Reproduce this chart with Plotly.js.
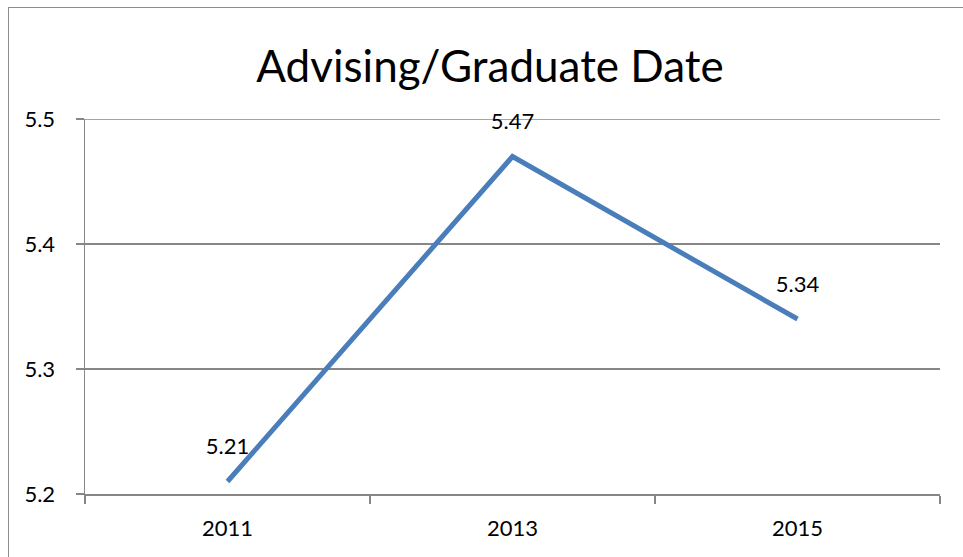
<!DOCTYPE html>
<html>
<head>
<meta charset="utf-8">
<script src="https://cdn.plot.ly/plotly-3.0.1.min.js"></script>
<style>
  html, body { margin: 0; padding: 0; overflow: hidden; background: #fff; }
  #chart { position: absolute; left: 0; top: 0; width: 963px; height: 557px; }
  #frame { position: absolute; left: 8px; top: 7px; width: 1100px; height: 700px;
           border: 1.5px solid #8c8c8c; pointer-events: none; }
</style>
</head>
<body>
<div id="chart"></div>
<div id="frame"></div>
<script>
const categories = ["2011", "2013", "2015"];
const values = [5.21, 5.47, 5.34];
const labels = ["5.21", "5.47", "5.34"];
const yTicks = [5.2, 5.3, 5.4, 5.5];
const yTickText = ["5.2", "5.3", "5.4", "5.5"];
const chartTitle = "Advising/Graduate Date";

const FONT = "Lato, 'Open Sans', sans-serif";

const lineTrace = {
  x: categories,
  y: values,
  type: "scatter",
  mode: "lines",
  line: { color: "#4a7ebb", width: 5 },
  hoverinfo: "skip",
  cliponaxis: false
};

const labelTrace = {
  x: categories,
  y: values,
  type: "scatter",
  mode: "markers+text",
  marker: { size: 33, color: "rgba(0,0,0,0)" },
  text: labels,
  textposition: "top center",
  textfont: { family: FONT, size: 22, color: "#000" },
  hoverinfo: "skip",
  cliponaxis: false
};

const topGrid = {
  type: "line", xref: "paper", x0: 0, x1: 1,
  yref: "y", y0: yTicks[yTicks.length - 1], y1: yTicks[yTicks.length - 1],
  line: { color: "#868686", width: 1.5 }, layer: "below"
};

const layout = {
  width: 963, height: 557,
  margin: { l: 85, r: 23, t: 119, b: 63 },
  paper_bgcolor: "#fff", plot_bgcolor: "#fff",
  showlegend: false,
  title: {
    text: chartTitle,
    font: { family: FONT, size: 44, color: "#000" },
    x: 490 / 963, xref: "container", xanchor: "center",
    y: 1 - 67 / 557, yref: "container", yanchor: "middle"
  },
  font: { family: FONT, size: 22, color: "#000" },
  xaxis: {
    type: "category",
    range: [-0.5, 2.5],
    tickvals: categories,
    ticktext: categories,
    tickson: "boundaries",
    ticks: "outside", ticklen: 8, tickwidth: 1.5, tickcolor: "#868686",
    showline: true, linecolor: "#868686", linewidth: 1.5,
    showgrid: false, zeroline: false,
    tickfont: { family: FONT, size: 22, color: "#000" },
    ticklabelstandoff: 14,
    fixedrange: true
  },
  yaxis: {
    range: [5.2, 5.5],
    tickvals: yTicks, ticktext: yTickText,
    ticks: "outside", ticklen: 8, tickwidth: 1.5, tickcolor: "#868686",
    showline: true, linecolor: "#868686", linewidth: 1.5,
    showgrid: true, gridcolor: "#868686", gridwidth: 1.5,
    zeroline: false,
    tickfont: { family: FONT, size: 22, color: "#000" },
    ticklabelstandoff: 16,
    fixedrange: true
  },
  shapes: [topGrid]
};

Plotly.newPlot("chart", [lineTrace, labelTrace], layout, { staticPlot: true, displayModeBar: false });
</script>
</body>
</html>
